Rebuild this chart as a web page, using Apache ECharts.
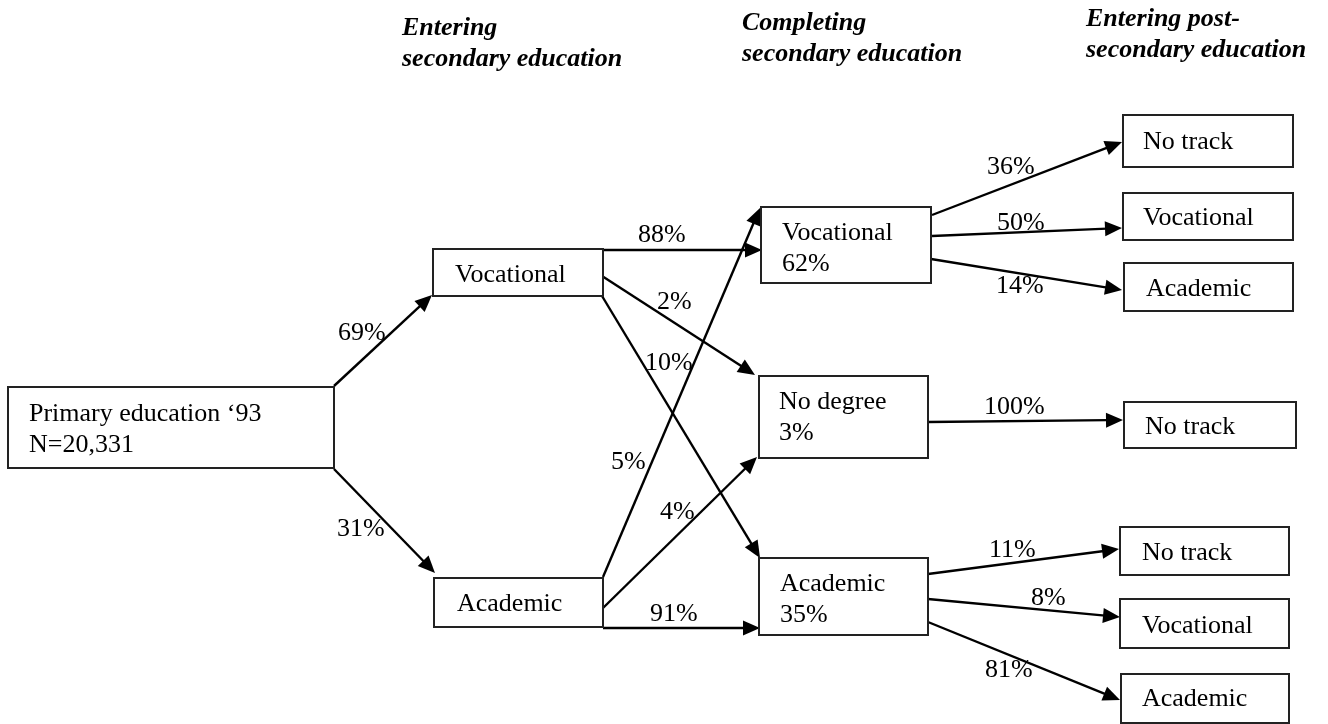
<!DOCTYPE html>
<html><head><meta charset="utf-8">
<script src="https://cdn.jsdelivr.net/npm/echarts@6/dist/echarts.min.js"></script>
<style>html,body{margin:0;padding:0;background:#fff}#c{width:1328px;height:724px}</style>
</head><body><div id="c"></div>
<script>
// ---- content ----
const stageHeaders = ['Entering\nsecondary education', 'Completing\nsecondary education', 'Entering post-\nsecondary education'];
const nodeLabels = ['Primary education \u201893\nN=20,331', 'Vocational', 'Academic', 'Vocational\n62%', 'No degree\n3%', 'Academic\n35%',
  'No track', 'Vocational', 'Academic', 'No track', 'No track', 'Vocational', 'Academic'];
const flowFrom = [0, 0, 1, 1, 1, 2, 2, 2, 3, 3, 3, 4, 5, 5, 5];
const flowTo   = [1, 2, 3, 4, 5, 3, 4, 5, 6, 7, 8, 9, 10, 11, 12];
const flowShares = ['69%', '31%', '88%', '2%', '10%', '5%', '4%', '91%', '36%', '50%', '14%', '100%', '11%', '8%', '81%'];

// ---- layout (diagram units = px on a 1328x724 canvas) ----
const headerPos = [[402, 37], [742, 32], [1086, 28]];           // text x, first baseline
const boxRects = [                                               // x1,y1,x2,y2, text x, first baseline
  [8, 387, 334, 468, 29, 423],
  [433, 249, 603, 296, 455, 284],
  [434, 578, 603, 627, 457, 613],
  [761, 207, 931, 283, 782, 242],
  [759, 376, 928, 458, 779, 411],
  [759, 558, 928, 635, 780, 593],
  [1123, 115, 1293, 167, 1143, 151],
  [1123, 193, 1293, 240, 1143, 227],
  [1124, 263, 1293, 311, 1146, 298],
  [1124, 402, 1296, 448, 1145, 436],
  [1120, 527, 1289, 575, 1142, 562],
  [1120, 599, 1289, 648, 1142, 635],
  [1121, 674, 1289, 723, 1142, 708]
];
const arrowEnds = [                                              // start x,y, end x,y
  [334, 386, 432, 295], [334, 469, 435, 573],
  [603, 250, 762, 250], [602, 276, 755, 375], [602, 296, 760, 558],
  [603, 577, 760, 208], [603, 608, 757, 457], [603, 628, 760, 628],
  [932, 215, 1122, 142], [932, 236, 1122, 228], [931, 259, 1122, 290],
  [928, 422, 1123, 420],
  [928, 574, 1119, 549], [928, 599, 1120, 617], [928, 622, 1120, 700]
];
const shareLabelPos = [                                          // text x, baseline
  [338, 342], [337, 538],
  [638, 244], [657, 311], [645, 372], [611, 471], [660, 521], [650, 623],
  [987, 176], [997, 232], [996, 295], [984, 416], [989, 559], [1031, 607], [985, 679]
];

const FS = 26, LH = 31, BASE = 9;
const FONT = FS + 'px "Liberation Serif", "Times New Roman", serif';
const HFONT = 'italic bold ' + FS + 'px "Liberation Serif", "Times New Roman", serif';

const chart = echarts.init(document.getElementById('c'), null, {renderer: 'canvas'});

function textEl(api, x, y, text, font) {
  const p = api.coord([x, y]);
  return {type: 'text', x: p[0], y: p[1] - BASE - LH / 2,
    style: {text: text, font: font, fill: '#000', lineHeight: LH, verticalAlign: 'top', align: 'left'}};
}

const option = {
  animation: false,
  backgroundColor: '#fff',
  grid: {left: 0, right: 0, top: 0, bottom: 0},
  xAxis: {type: 'value', min: 0, max: 1328, show: false},
  yAxis: {type: 'value', min: 0, max: 724, inverse: true, show: false},
  series: [
    { // arrows
      type: 'custom', coordinateSystem: 'cartesian2d', clip: false,
      data: arrowEnds,
      renderItem: function (params, api) {
        const a = api.coord([api.value(0), api.value(1)]);
        const b = api.coord([api.value(2), api.value(3)]);
        const dx = b[0] - a[0], dy = b[1] - a[1];
        const len = Math.sqrt(dx * dx + dy * dy);
        const ux = dx / len, uy = dy / len;
        const L = 17, HW = 7.5;
        const bx = b[0] - ux * L, by = b[1] - uy * L;
        return {type: 'group', children: [
          {type: 'line', shape: {x1: a[0], y1: a[1], x2: bx + ux * 2, y2: by + uy * 2},
            style: {stroke: '#000', lineWidth: 2.4}},
          {type: 'polygon', shape: {points: [[b[0], b[1]], [bx - uy * HW, by + ux * HW], [bx + uy * HW, by - ux * HW]]},
            style: {fill: '#000'}}
        ]};
      }
    },
    { // boxes
      type: 'custom', coordinateSystem: 'cartesian2d', clip: false,
      data: boxRects,
      renderItem: function (params, api) {
        const p1 = api.coord([api.value(0), api.value(1)]);
        const p2 = api.coord([api.value(2), api.value(3)]);
        return {type: 'group', children: [
          {type: 'rect', shape: {x: p1[0], y: p1[1], width: p2[0] - p1[0], height: p2[1] - p1[1]},
            style: {fill: '#fff', stroke: '#222', lineWidth: 2}},
          textEl(api, api.value(4), api.value(5), nodeLabels[params.dataIndex], FONT)
        ]};
      }
    },
    { // share labels
      type: 'custom', coordinateSystem: 'cartesian2d', clip: false,
      data: shareLabelPos,
      renderItem: function (params, api) {
        return textEl(api, api.value(0), api.value(1), flowShares[params.dataIndex], FONT);
      }
    },
    { // stage headers
      type: 'custom', coordinateSystem: 'cartesian2d', clip: false,
      data: headerPos,
      renderItem: function (params, api) {
        return textEl(api, api.value(0), api.value(1), stageHeaders[params.dataIndex], HFONT);
      }
    }
  ]
};
chart.setOption(option);
</script></body></html>
